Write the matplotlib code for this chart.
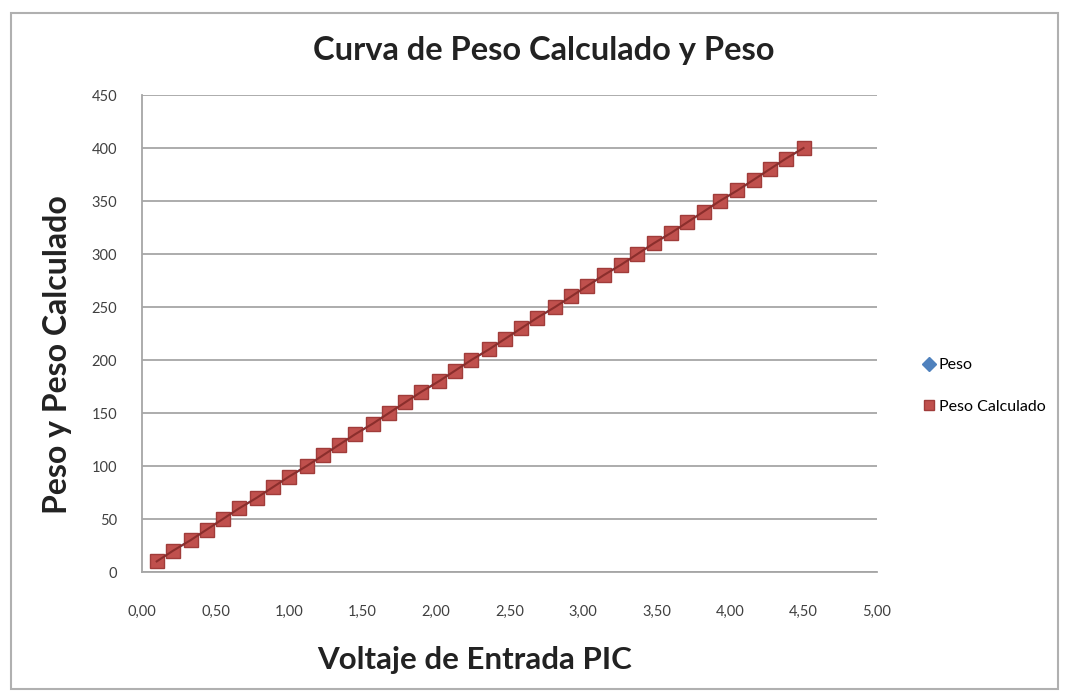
import matplotlib.pyplot as plt
from matplotlib.patches import Rectangle
from matplotlib.ticker import FuncFormatter

plt.rcParams['font.family'] = ['Lato', 'DejaVu Sans']

voltaje = [0.10, 0.21, 0.33, 0.44, 0.55, 0.66, 0.78, 0.89, 1.00, 1.12,
           1.23, 1.34, 1.45, 1.57, 1.68, 1.79, 1.90, 2.02, 2.13, 2.24,
           2.36, 2.47, 2.58, 2.69, 2.81, 2.92, 3.03, 3.14, 3.26, 3.37,
           3.48, 3.60, 3.71, 3.82, 3.93, 4.05, 4.16, 4.27, 4.38, 4.50]
peso = [10, 20, 30, 40, 50, 60, 70, 80, 90, 100,
        110, 120, 130, 140, 150, 160, 170, 180, 190, 200,
        210, 220, 230, 240, 250, 260, 270, 280, 290, 300,
        310, 320, 330, 340, 350, 360, 370, 380, 390, 400]
peso_calc = [10, 20, 30, 40, 50, 60, 70, 80, 90, 100,
             110, 120, 130, 140, 150, 160, 170, 180, 190, 200,
             210, 220, 230, 240, 250, 260, 270, 280, 290, 300,
             310, 320, 330, 340, 350, 360, 370, 380, 390, 400]

fig = plt.figure(figsize=(10.71, 6.93), dpi=100)
fig.patches.append(Rectangle((0.010, 0.006), 0.978, 0.975, transform=fig.transFigure,
                             fill=False, edgecolor='#b0b0b0', linewidth=1.5))
ax = fig.add_axes([0.1326, 0.1746, 0.6863, 0.6883])

ax.plot(voltaje, peso, color='#4F81BD', marker='D', markersize=7, linestyle='-',
        linewidth=1.5, label='Peso', zorder=3)
ax.plot(voltaje, peso_calc, color='#C0504D', marker='s', markersize=10,
        markeredgecolor='#A03c3a', linestyle='None', label='Peso Calculado', zorder=4)
ax.plot(voltaje, peso_calc, color='#8B2E2C', linewidth=1.5, zorder=5)

ax.set_xlim(0, 5)
ax.set_ylim(0, 450)
ax.set_xticks([i * 0.5 for i in range(11)])
ax.set_yticks(range(0, 451, 50))
ax.xaxis.set_major_formatter(FuncFormatter(lambda v, p: f'{v:.2f}'.replace('.', ',')))
ax.yaxis.grid(True, color='#a6a6a6', linewidth=1.3)
ax.set_axisbelow(True)
for s in ['top', 'right']:
    ax.spines[s].set_visible(False)
for s in ['left', 'bottom']:
    ax.spines[s].set_color('#a6a6a6')
    ax.spines[s].set_linewidth(1.3)
ax.tick_params(axis='both', labelsize=10.5, labelcolor='#404040', length=0)
ax.tick_params(axis='x', pad=24)
ax.tick_params(axis='y', pad=18)

fig.text(0.508, 0.927, 'Curva de Peso Calculado y Peso', ha='center', va='center',
         fontsize=23.5, fontweight='bold', color='#222222')
fig.text(0.054, 0.488, 'Peso y Peso Calculado', ha='center', va='center', rotation=90,
         fontsize=23, fontweight='bold', color='#222222')
fig.text(0.443, 0.048, 'Voltaje de Entrada PIC', ha='center', va='center',
         fontsize=22.5, fontweight='bold', color='#222222')

leg = ax.legend(loc='center left', bbox_to_anchor=(1.045, 0.39), frameon=False,
                fontsize=11.5, handlelength=0.6, handletextpad=0.3, labelspacing=1.7)
for h in leg.legend_handles:
    h.set_linestyle('None')
    h.set_markersize(7)

fig.savefig('out.png', dpi=100)
